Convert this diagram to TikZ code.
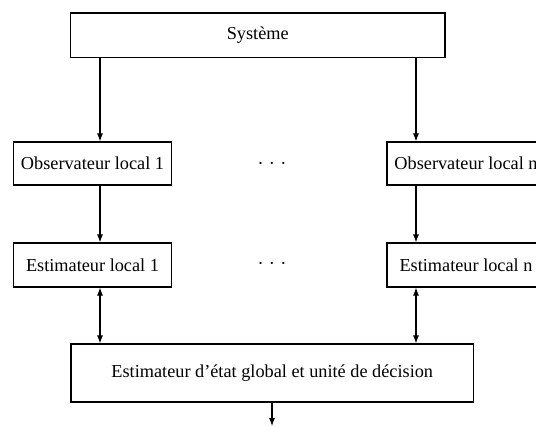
\documentclass[tikz,border=0pt]{standalone}
\usepackage{fontspec}
\setmainfont{Liberation Serif}
\usetikzlibrary{arrows.meta}
\begin{document}
\begin{tikzpicture}[x=0.75pt,y=-0.75pt,
  box/.style={draw=black, line width=0.8pt, inner sep=0pt, font=\fontsize{13.7}{16}\selectfont},
  arr/.style={line width=0.8pt, -{Latex[length=6pt,width=4.5pt]}},
  darr/.style={line width=0.8pt, {Latex[length=6pt,width=4.5pt]}-{Latex[length=6pt,width=4.5pt]}},
  dotsnode/.style={inner sep=0pt, font=\fontsize{13.7}{16}\selectfont}]
\useasboundingbox (0,0) rectangle (536,426);
\node[box, minimum width=280.9pt, minimum height=33.4pt] (sys) at (257.75,35.25) {Système};
\node[box, minimum width=118.5pt, minimum height=32.25pt] (obs1) at (92.5,163.5) {Observateur local 1};
\node[box, minimum width=118.5pt, minimum height=32.25pt] (obsn) at (466,163.5) {Observateur local n};
\node[box, minimum width=118.5pt, minimum height=33pt] (est1) at (92.5,265) {Estimateur local 1};
\node[box, minimum width=118.5pt, minimum height=33pt] (estn) at (466,265) {Estimateur local n};
\node[box, minimum width=301.9pt, minimum height=43.5pt] (glob) at (272.25,373) {Estimateur d’état global et unité de décision};
\node[dotsnode] (d1) at (272,166) {·\hspace{4pt}·\hspace{4pt}·};
\node[dotsnode] (d2) at (272,266) {·\hspace{4pt}·\hspace{4pt}·};
\coordinate (c1) at (100,0);
\coordinate (cn) at (416,0);
\coordinate (out) at (272,426);
\draw[arr] (c1 |- sys.south) -- (c1 |- obs1.north);
\draw[arr] (cn |- sys.south) -- (cn |- obsn.north);
\draw[arr] (c1 |- obs1.south) -- (c1 |- est1.north);
\draw[arr] (cn |- obsn.south) -- (cn |- estn.north);
\draw[darr] (c1 |- est1.south) -- (c1 |- glob.north);
\draw[darr] (cn |- estn.south) -- (cn |- glob.north);
\draw[arr] (out |- glob.south) -- (out);
\end{tikzpicture}
\end{document}
